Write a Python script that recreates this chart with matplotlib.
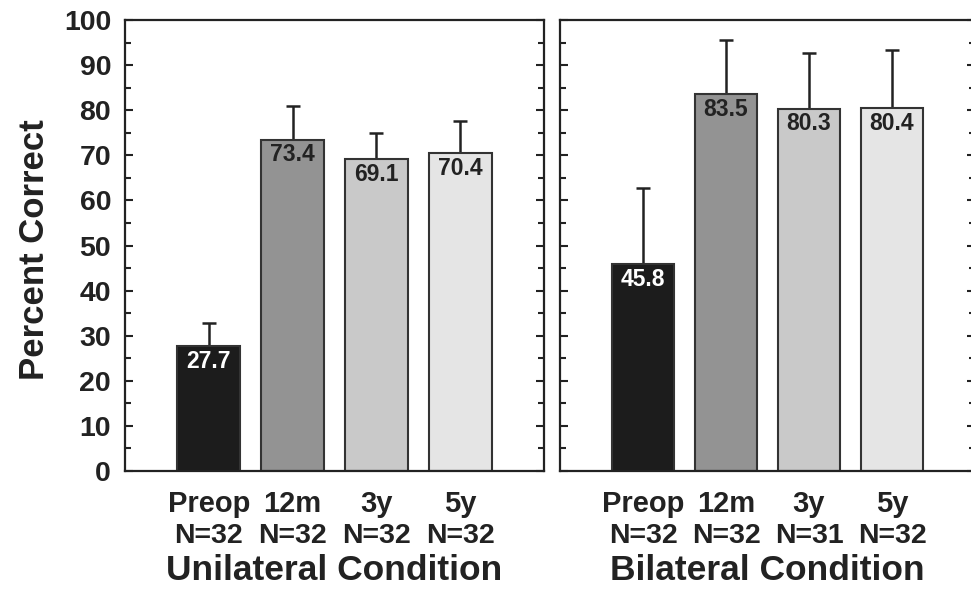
import numpy as np
import matplotlib
matplotlib.use("Agg")
import matplotlib.pyplot as plt
from matplotlib.ticker import MultipleLocator

plt.rcParams['font.family'] = ['Liberation Sans', 'DejaVu Sans']
plt.rcParams['font.weight'] = 'bold'

# data
categories = ["Preop", "12m", "3y", "5y"]
uni_vals = [27.7, 73.4, 69.1, 70.4]
uni_err = [5.1, 7.5, 5.8, 7.2]
uni_n = ["N=32", "N=32", "N=32", "N=32"]
bi_vals = [45.8, 83.5, 80.3, 80.4]
bi_err = [16.9, 12.1, 12.4, 12.9]
bi_n = ["N=32", "N=32", "N=31", "N=32"]

bar_colors = ["#1c1c1c", "#939393", "#c9c9c9", "#e5e5e5"]
label_colors = ["white", "#222222", "#222222", "#222222"]
ink = "#222222"

fig = plt.figure(figsize=(9.71, 5.93), dpi=100)
ax1 = fig.add_axes([125/971, 1 - 471/593, 419/971, 451/593])
ax2 = fig.add_axes([560/971, 1 - 471/593, 415/971, 451/593])


def panel(ax, vals, errs, ns, title, show_labels):
    x = np.arange(len(categories))
    ax.bar(x, vals, width=0.75, color=bar_colors, edgecolor="#333333",
           linewidth=1.5, zorder=2)
    ax.errorbar(x, vals, yerr=[np.zeros(len(vals)), errs], fmt="none",
                ecolor=ink, elinewidth=1.8, capsize=5, capthick=1.8, zorder=1)
    for xi, v, c in zip(x, vals, label_colors):
        ax.annotate(f"{v:.1f}", (xi, v), xytext=(0, -2.5), textcoords="offset points",
                    ha="center", va="top", fontsize=16.5, fontweight="bold",
                    color=c, zorder=3)
    ax.set_xlim(-1, 4)
    ax.set_ylim(0, 100)
    ax.set_xticks([])
    ax.yaxis.set_major_locator(MultipleLocator(10))
    ax.yaxis.set_minor_locator(MultipleLocator(5))
    ax.tick_params(axis="y", which="both", direction="in", left=True, right=True,
                   color=ink, width=1.5)
    ax.tick_params(axis="y", which="major", length=6, labelsize=20.5, pad=10,
                   labelcolor=ink, labelleft=show_labels)
    ax.tick_params(axis="y", which="minor", length=4)
    for lab in ax.get_yticklabels():
        lab.set_fontweight("bold")
    for s in ax.spines.values():
        s.set_linewidth(1.6)
        s.set_color(ink)
    tr = ax.get_xaxis_transform()
    for xi, cat, n in zip(x, categories, ns):
        ax.text(xi, -0.091, cat, transform=tr, ha="center", va="baseline",
                fontsize=21, fontweight="bold", color=ink)
        ax.text(xi, -0.160, n, transform=tr, ha="center", va="baseline",
                fontsize=20.5, fontweight="bold", color=ink)
    ax.text(1.5, -0.242, title, transform=tr, ha="center", va="baseline",
            fontsize=25.5, fontweight="bold", color=ink)


panel(ax1, uni_vals, uni_err, uni_n, "Unilateral Condition", True)
panel(ax2, bi_vals, bi_err, bi_n, "Bilateral Condition", False)

fig.text(35/971, 1 - 250/593, "Percent Correct", rotation=90, ha="center",
         va="center", fontsize=25, fontweight="bold", color=ink)

fig.savefig("out.png", dpi=100)
